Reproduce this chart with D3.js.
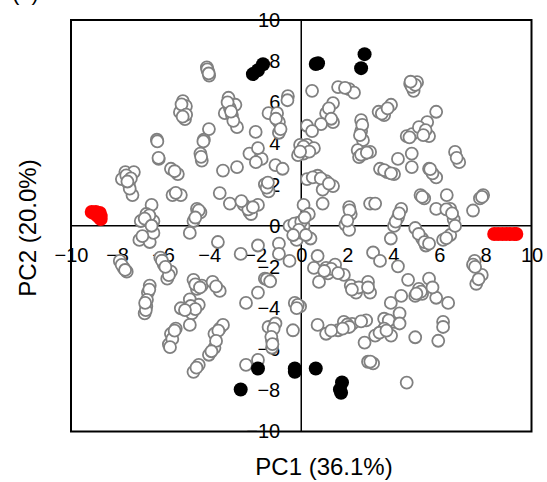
<!doctype html>
<html lang="en">
  <head>
    <meta charset="UTF-8" />
    <title>PCA score plot</title>
    <script src="https://unpkg.com/d3@7.9.0/dist/d3.min.js"></script>
    <style>
      body {
        margin: 0;
        background: #fff;
        font-family: 'Liberation Sans', Arial, sans-serif;
      }
      .tick text {
        font-size: 20px;
        fill: #000;
      }
      .title {
        font-size: 24px;
        fill: #000;
      }
    </style>
  </head>
  <body>
    <svg width="547" height="482"></svg>
    <script>
      // grey (hollow) samples: [PC1, PC2]
      const greyPoints = [
        [-4.1, 7.7], [-4.05, 7.5], [-4.0, 7.3], [-4.08, 7.6], [-4.02, 7.4],
        [-5.14, 6.06], [-5.27, 5.52], [-5.05, 5.18], [-5.01, 5.81], [-5.2, 5.9], [-5.0, 5.4], [-5.15, 5.3],
        [-3.16, 6.22], [-3.32, 5.47], [-3.01, 5.38], [-2.79, 4.79], [-2.86, 5.88], [-3.1, 5.72],
        [-3.2, 6.0], [-2.95, 5.1], [-3.05, 5.55],
        [-1.98, 4.56], [-1.42, 5.47], [-1.05, 5.47], [-0.58, 6.3], [-0.97, 5.04], [-0.97, 4.52],
        [-1.1, 5.2], [-0.9, 4.7], [-0.6, 6.1],
        [0.47, 6.56], [1.6, 6.74], [2.08, 6.64], [2.29, 6.47], [1.38, 5.96], [1.08, 5.47], [1.38, 5.04],
        [1.2, 5.7], [1.3, 5.2], [1.9, 6.7],
        [0.86, 4.94], [0.25, 4.86], [0.47, 4.6], [2.6, 5.13], [2.6, 4.6], [2.68, 4.16], [2.65, 4.9], [2.55, 4.4],
        [3.36, 5.54], [3.6, 5.38], [3.9, 5.88], [3.5, 5.45], [3.75, 5.7],
        [4.73, 6.9], [5.03, 6.98], [4.88, 6.56], [4.8, 6.75], [4.95, 6.85], [4.75, 7.0],
        [5.86, 5.54], [5.47, 5.04], [5.25, 4.52], [5.55, 4.36], [4.58, 4.36], [4.82, 4.45], [5.11, 4.79],
        [5.4, 4.65], [5.3, 4.4], [4.7, 4.3],
        [6.68, 3.59], [6.86, 3.09], [6.75, 3.3], [-6.27, 4.18], [-6.19, 3.25], [-6.25, 4.1], [-6.2, 3.3],
        [-4.23, 4.18], [-4.01, 4.7], [-4.38, 3.51], [-4.32, 3.17], [-4.35, 3.35], [-4.25, 4.1],
        [-2.25, 3.51], [-1.72, 3.25], [-1.88, 3.77],
        [-0.05, 3.93], [0.25, 3.93], [0.55, 3.77], [0.1, 3.51], [-0.14, 3.43], [0.1, 3.85], [0.35, 3.6], [-0.05, 3.6],
        [2.45, 3.68], [2.75, 3.51], [2.99, 3.59], [2.51, 3.34], [2.6, 3.45], [2.85, 3.55], [4.2, 3.25], [4.8, 3.51],
        [-7.64, 2.61], [-7.27, 2.61], [-7.79, 2.27], [-7.49, 2.03], [-7.33, 1.49],
        [-7.6, 2.45], [-7.4, 2.3], [-7.45, 1.8], [-7.55, 2.15],
        [-5.66, 2.77], [-5.36, 2.51], [-5.59, 1.49], [-5.23, 1.49], [-5.5, 2.65], [-5.45, 1.6],
        [-3.4, 2.68], [-2.79, 2.85], [-1.97, 3.09], [-1.12, 2.95], [-0.81, 2.77], [-1.58, 2.01], [-1.42, 1.67],
        [-1.5, 1.85], [-1.45, 2.1],
        [-3.54, 1.59], [-3.1, 1.08], [-2.49, 1.01], [-1.88, 1.01], [-2.25, 0.67], [-2.18, 0.57],
        [-2.3, 0.8], [-2.1, 0.9], [-2.6, 1.2],
        [-4.53, 0.82], [-4.38, 0.65], [-4.68, 0.23], [-4.84, -0.35], [-4.45, 0.75], [-4.6, 0.4],
        [-6.5, 1.01], [-6.73, 0.57], [-6.97, 0.23], [-6.42, 0.23], [-7.03, -0.69], [-6.58, -0.79], [-6.42, -0.35],
        [-6.6, 0.5], [-6.8, 0.35], [-6.5, 0.0], [-6.9, -0.5],
        [0.25, 2.27], [0.71, 2.43], [1.08, 2.17], [1.38, 1.93], [0.93, 1.75], [0.1, 1.01], [0.33, 0.57],
        [0.5, 2.35], [0.85, 2.3], [1.2, 2.05],
        [0.93, 1.08], [-0.14, 0.14], [-0.51, -0.01], [0.1, -0.01], [-0.2, -0.69], [0.4, -0.62], [0.02, -0.35],
        [-0.3, 0.1], [0.0, 0.2], [-0.1, -0.2], [0.2, -0.45], [-0.35, -0.45], [0.15, 0.4],
        [2.08, 0.91], [2.15, 0.57], [1.92, 0.06], [2.08, -0.2], [2.1, 0.75], [2.0, 0.25], [2.99, 1.08], [3.21, 1.08],
        [3.42, 2.77], [3.73, 2.61], [4.03, 2.51], [3.6, 2.7], [3.9, 2.55],
        [4.8, 2.85], [5.55, 2.77], [5.86, 2.35], [5.7, 2.55], [5.6, 2.75],
        [5.18, 1.49], [5.34, 1.33], [5.25, 1.4], [6.32, 1.49], [5.86, 0.82], [6.47, 0.82], [6.62, 0.31],
        [6.3, 0.8], [6.55, 0.6],
        [7.46, 0.74], [7.9, 1.49], [7.76, 1.33], [7.85, 1.4],
        [4.34, 0.82], [4.2, 0.4], [4.03, -0.01], [3.89, -0.62], [4.1, 0.2], [4.25, 0.6],
        [4.95, -0.11], [5.25, -0.62], [5.41, -0.96], [5.1, -0.4], [5.35, -0.8],
        [6.16, -0.69], [6.47, -0.45], [6.68, -0.01], [6.3, -0.6],
        [-7.88, -1.71], [-7.71, -2.05], [-7.58, -2.23], [-7.8, -1.9], [-7.65, -2.15],
        [-6.12, -1.55], [-5.97, -1.89], [-5.66, -2.23], [-5.82, -2.57], [-6.05, -1.7], [-5.75, -2.4], [-5.9, -2.0],
        [-6.58, -2.91], [-6.66, -3.25], [-6.73, -3.92], [-6.8, -4.26], [-6.6, -3.1], [-6.7, -3.6], [-6.75, -4.1], [-6.78, -3.75],
        [-4.68, -2.63], [-4.53, -3.07], [-4.32, -2.91], [-3.85, -2.73], [-3.54, -3.17], [-4.6, -2.85], [-4.4, -3.0], [-3.7, -2.95],
        [-4.84, -3.58], [-4.75, -4.26], [-4.45, -3.84], [-5.23, -4.01], [-4.8, -3.9], [-4.6, -4.05], [-5.05, -4.1],
        [-3.62, -0.79], [-2.63, -1.37], [-1.88, -0.96], [-0.97, -0.87], [-1.58, -2.57], [-1.42, -2.63],
        [-1.5, -2.6], [-1.35, -2.7],
        [-0.51, -1.71], [-0.97, -1.37], [-2.4, -3.75], [-1.88, -3.25], [-0.28, -3.75], [-0.05, -3.92],
        [-0.15, -3.85], [-0.2, -4.0],
        [0.71, -1.47], [0.55, -2.05], [1.08, -2.05], [1.47, -1.89], [1.16, -2.31], [1.85, -2.39],
        [1.3, -2.1], [1.0, -2.2], [1.6, -2.3],
        [0.77, -2.73], [2.15, -2.91], [2.38, -3.25], [2.9, -2.73], [2.99, -3.25], [2.5, -3.0], [2.9, -3.0], [2.2, -3.1],
        [3.12, -1.3], [3.42, -1.71], [4.2, -1.97], [3.89, -3.75], [4.64, -2.63], [5.11, -3.07], [5.25, -3.31],
        [5.55, -2.57], [5.86, -3.5], [4.95, -3.41], [4.34, -3.41], [5.2, -3.2], [5.0, -3.3], [5.7, -3.0],
        [5.55, -0.87], [6.38, -3.75], [6.16, -4.67],
        [7.53, -1.71], [7.84, -2.39], [7.6, -2.82], [7.46, -1.89], [7.55, -2.0], [7.7, -2.6],
        [1.85, -4.67], [2.21, -4.77], [2.82, -4.6], [3.6, -4.52], [4.03, -4.67], [4.27, -4.26],
        [2.0, -4.8], [2.6, -4.65], [3.8, -4.6],
        [-5.75, -5.76], [-5.45, -5.0], [-4.84, -4.82], [-5.66, -5.25], [-5.6, -5.5], [-5.5, -5.1], [-5.7, -5.9],
        [-3.77, -5.25], [-3.54, -5.0], [-3.4, -4.82], [-3.77, -5.93], [-4.01, -6.27], [-4.68, -7.1], [-4.45, -6.76],
        [-3.6, -5.1], [-3.7, -5.6], [-3.9, -6.1], [-4.55, -6.9],
        [-2.4, -6.76], [-1.88, -6.52], [-1.42, -4.92], [-1.12, -4.75], [-1.27, -5.59], [-1.27, -5.93],
        [-1.2, -5.0], [-1.3, -5.4], [-1.25, -5.75],
        [-0.36, -5.08], [0.71, -4.82], [1.08, -5.25], [1.6, -5.08], [2.08, -4.92], [1.3, -5.1], [1.8, -5.0],
        [2.75, -5.68], [3.21, -5.34], [3.6, -5.0], [3.9, -5.34], [3.4, -5.2], [3.7, -5.1],
        [4.27, -4.75], [4.95, -5.42], [5.95, -5.59],
        [6.16, -4.92], [2.9, -6.61], [3.12, -6.69], [3.0, -6.6], [4.58, -7.62]
      ];

      // black (filled) samples
      const blackPoints = [
        [-2.1, 7.37], [-1.88, 7.56], [-1.66, 7.85], [0.63, 7.86], [0.73, 7.9],
        [2.75, 8.34], [2.6, 7.66],
        [-1.88, -6.94], [-2.63, -7.96], [-0.28, -6.94], [-0.28, -7.1], [0.63, -6.94],
        [1.77, -7.62], [1.68, -7.96], [1.73, -8.12]
      ];

      // red (filled) samples
      const redPoints = [
        [-9.1, 0.67], [-8.92, 0.67], [-8.75, 0.62], [-8.71, 0.47], [-8.71, 0.33], [-8.84, 0.47], [-9.01, 0.62],
        [8.38, -0.4], [8.55, -0.4], [8.73, -0.4], [8.9, -0.4], [9.07, -0.4], [9.25, -0.4], [9.34, -0.4]
      ];

      const ticks = [-10, -8, -6, -4, -2, 0, 2, 4, 6, 8, 10];
      const xTitle = 'PC1 (36.1%)';
      const yTitle = 'PC2 (20.0%)';

      const svg = d3.select('svg');
      const box = { left: 71, right: 531.5, top: 20, bottom: 431.5 };

      const x = d3.scaleLinear().domain([-10, 10]).range([box.left, box.right]);
      const y = d3.scaleLinear().domain([-10, 10]).range([box.bottom, box.top]);

      // frame
      svg.append('rect')
        .attr('x', box.left)
        .attr('y', box.top)
        .attr('width', box.right - box.left)
        .attr('height', box.bottom - box.top)
        .attr('fill', 'none')
        .attr('stroke', '#000')
        .attr('stroke-width', 2);

      // crossing axes through the origin
      svg.append('line')
        .attr('x1', x(0)).attr('x2', x(0))
        .attr('y1', box.top).attr('y2', box.bottom)
        .attr('stroke', '#000').attr('stroke-width', 1.5);
      svg.append('line')
        .attr('x1', box.left).attr('x2', box.right)
        .attr('y1', y(0)).attr('y2', y(0))
        .attr('stroke', '#000').attr('stroke-width', 1.5);

      const gx = svg.append('g')
        .attr('transform', `translate(0,${y(0)})`)
        .call(d3.axisBottom(x).tickValues(ticks).tickSize(0).tickPadding(22).tickFormat(d3.format('d')));
      gx.select('.domain').remove();

      const gy = svg.append('g')
        .attr('transform', `translate(${x(0)},0)`)
        .call(d3.axisLeft(y).tickValues(ticks).tickSize(0).tickPadding(21).tickFormat(d3.format('d')));
      gy.select('.domain').remove();

      svg.selectAll('.tick text').attr('font-family', null).attr('font-size', null);
      svg.selectAll('.tick text').style('font-family', "'Liberation Sans', Arial, sans-serif");

      // points
      svg.append('g')
        .selectAll('circle')
        .data(greyPoints)
        .join('circle')
        .attr('cx', (d) => x(d[0]))
        .attr('cy', (d) => y(d[1]))
        .attr('r', 6)
        .attr('fill', '#fff')
        .attr('stroke', '#808080')
        .attr('stroke-width', 1.8);

      svg.append('g')
        .selectAll('circle')
        .data(blackPoints)
        .join('circle')
        .attr('cx', (d) => x(d[0]))
        .attr('cy', (d) => y(d[1]))
        .attr('r', 7)
        .attr('fill', '#000');

      svg.append('g')
        .selectAll('circle')
        .data(redPoints)
        .join('circle')
        .attr('cx', (d) => x(d[0]))
        .attr('cy', (d) => y(d[1]))
        .attr('r', 7)
        .attr('fill', '#ff0000');

      // axis titles
      svg.append('text')
        .attr('class', 'title')
        .attr('x', 324)
        .attr('y', 475)
        .attr('text-anchor', 'middle')
        .text(xTitle);

      svg.append('text')
        .attr('class', 'title')
        .attr('transform', 'translate(36,228) rotate(-90)')
        .attr('text-anchor', 'middle')
        .text(yTitle);

      // panel letter, cut by the top edge
      svg.append('text')
        .attr('x', 12)
        .attr('y', 0)
        .style('font-size', '22px')
        .text('(a)');
    </script>
  </body>
</html>
